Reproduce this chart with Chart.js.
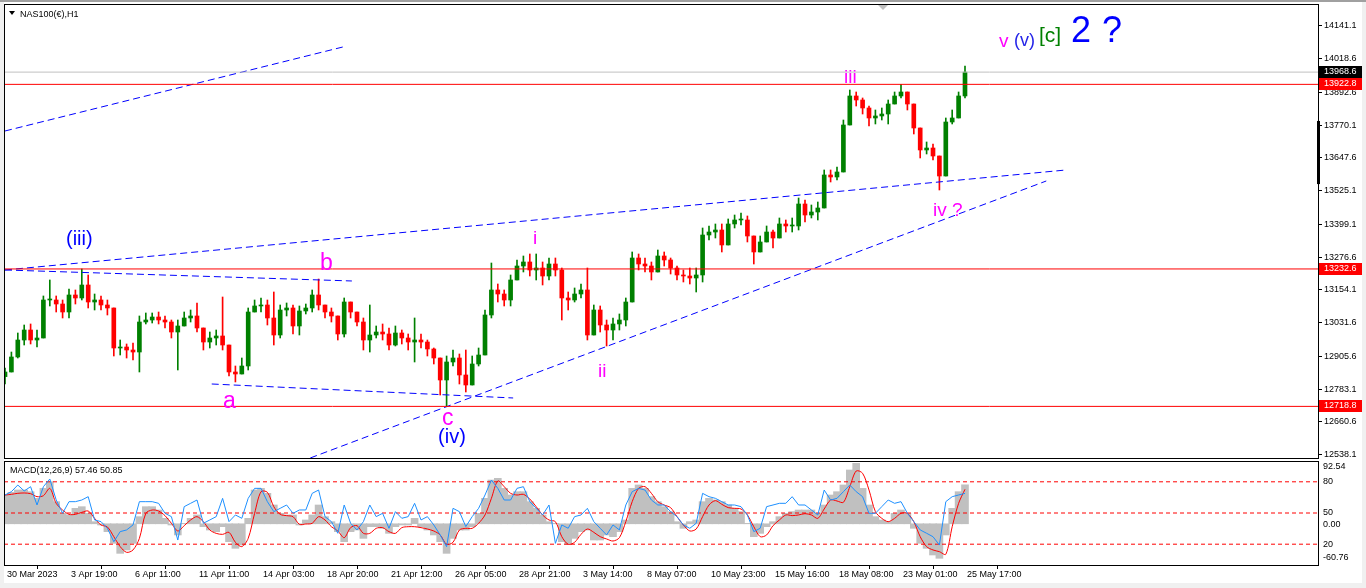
<!DOCTYPE html>
<html>
<head>
<meta charset="utf-8">
<script src="https://cdn.jsdelivr.net/npm/chart.js@4.4.0/dist/chart.umd.min.js"></script>
<style>
  html, body { margin: 0; padding: 0; background: #f0f0f0; }
  body { width: 1366px; height: 588px; position: relative; overflow: hidden; border-top: 2px solid #a0a0a0; box-sizing: border-box; }
  #sheet { position: absolute; left: 4px; top: 0; width: 1358px; height: 581px; background: #fff; }
  canvas { position: absolute; left: 0; }
  #price { top: -2px; }
  #macd { top: 458px; }
</style>
</head>
<body>
<div id="sheet"></div>
<canvas id="price" width="1366" height="462"></canvas>
<canvas id="macd" width="1366" height="128"></canvas>
<script>
// ---- data (one bar = ~6.4 hourly bars) ----
const tickLabels = ['30 Mar 2023', '3 Apr 19:00', '6 Apr 11:00', '11 Apr 11:00', '14 Apr 03:00',
    '18 Apr 20:00', '21 Apr 12:00', '26 Apr 05:00', '28 Apr 21:00', '3 May 14:00', '8 May 07:00',
    '10 May 23:00', '15 May 16:00', '18 May 08:00', '23 May 01:00', '25 May 17:00'];
const barsPerLabel = 10;

const priceTicks = [14141.1, 14018.6, 13892.6, 13770.1, 13647.6, 13525.1, 13399.1, 13276.6,
    13154.1, 13031.6, 12905.6, 12783.1, 12660.6, 12538.1];

const openStart = 12830.0;
const closes = [
    12847.4, 12903.5, 12967.0, 13004.4, 12967.0, 12974.5, 13116.6, 13116.6, 13101.6, 13071.7,
    13135.3, 13124.1, 13172.7, 13109.1, 13116.6, 13097.9, 13086.7, 12937.1, 12940.8, 12929.6,
    12922.1, 13034.3, 13041.8, 13053.0, 13041.8, 13034.3, 12996.9, 13019.4, 13049.3, 13056.8,
    13011.9, 12959.5, 12974.5, 12982.0, 12948.3, 12847.4, 12839.9, 12869.8, 13071.7, 13094.2,
    13097.9, 13049.3, 12985.7, 13079.2, 13086.7, 13019.4, 13075.5, 13086.7, 13135.3, 13097.9,
    13071.7, 13056.8, 12989.5, 13109.1, 13071.7, 13034.3, 12967.0, 12985.7, 12996.9, 12989.5,
    12948.3, 12993.2, 12974.5, 12959.5, 12967.0, 12959.5, 12933.4, 12899.7, 12817.5, 12884.8,
    12899.7, 12836.2, 12798.8, 12877.3, 12910.9, 13060.5, 13154.0, 13139.0, 13116.6, 13191.4,
    13243.7, 13258.7, 13228.8, 13236.2, 13206.3, 13251.2, 13228.8, 13124.1, 13116.6, 13139.0,
    13154.0, 12985.7, 13079.2, 13023.1, 13004.4, 13026.9, 13041.8, 13109.1, 13273.6, 13251.2,
    13243.7, 13221.3, 13281.1, 13266.2, 13236.2, 13210.1, 13206.3, 13198.8, 13210.1, 13359.6,
    13370.8, 13378.3, 13322.3, 13400.8, 13415.7, 13415.7, 13355.9, 13296.1, 13333.5, 13370.8,
    13348.4, 13400.8, 13393.3, 13393.3, 13475.5, 13434.4, 13445.6, 13460.6, 13584.0, 13576.5,
    13595.2, 13770.9, 13879.4, 13864.4, 13834.5, 13797.1, 13804.6, 13812.0, 13849.4, 13879.4,
    13894.3, 13849.4, 13759.7, 13677.5, 13684.9, 13655.0, 13580.2, 13782.1, 13797.1, 13879.4,
    13968.6];
const highs = [
    12862.4, 12922.1, 12993.2, 13023.1, 13026.9, 13004.4, 13131.6, 13191.4, 13131.6, 13116.6,
    13157.7, 13154.0, 13232.6, 13210.1, 13139.0, 13131.6, 13116.6, 13079.2, 12967.0, 12952.1,
    12955.8, 13056.8, 13068.0, 13068.0, 13071.7, 13056.8, 13041.8, 13041.8, 13071.7, 13079.2,
    13105.4, 13011.9, 12996.9, 13004.4, 13127.8, 12929.6, 12869.8, 12899.7, 13086.7, 13116.6,
    13124.1, 13116.6, 13146.5, 13097.9, 13105.4, 13097.9, 13094.2, 13101.6, 13154.0, 13195.0,
    13097.9, 13086.7, 13049.3, 13124.1, 13101.6, 13064.3, 13049.3, 13097.9, 13019.4, 13026.9,
    13011.9, 13019.4, 13004.4, 12989.5, 13049.3, 12989.5, 12967.0, 12937.1, 12892.3, 12907.2,
    12929.6, 12914.7, 12929.6, 12907.2, 12937.1, 13079.2, 13254.9, 13176.4, 13154.0, 13210.1,
    13266.2, 13281.1, 13288.6, 13288.6, 13258.7, 13273.6, 13273.6, 13236.2, 13146.5, 13161.5,
    13176.4, 13236.2, 13097.9, 13094.2, 13041.8, 13049.3, 13064.3, 13124.1, 13296.1, 13288.6,
    13273.6, 13258.7, 13303.5, 13296.1, 13273.6, 13243.7, 13228.8, 13236.2, 13236.2, 13385.8,
    13393.3, 13400.8, 13400.8, 13419.5, 13434.4, 13441.9, 13430.7, 13340.9, 13355.9, 13393.3,
    13378.3, 13423.2, 13415.7, 13423.2, 13498.0, 13490.5, 13471.8, 13483.0, 13602.7, 13602.7,
    13613.9, 13789.6, 13901.8, 13894.3, 13871.9, 13841.9, 13827.0, 13834.5, 13864.4, 13894.3,
    13922.8, 13894.3, 13834.5, 13744.8, 13707.4, 13699.9, 13621.4, 13797.1, 13827.0, 13894.3,
    13991.5];
const lows = [
    12802.5, 12854.9, 12899.7, 12948.3, 12952.1, 12940.8, 13023.1, 13094.2, 13071.7, 13049.3,
    13049.3, 13101.6, 13116.6, 13086.7, 13079.2, 13079.2, 13060.5, 12907.2, 12910.9, 12899.7,
    12892.3, 12847.4, 13026.9, 13030.6, 13026.9, 13011.9, 12974.5, 12854.9, 13023.1, 13034.3,
    12996.9, 12929.6, 12937.1, 12948.3, 12929.6, 12832.4, 12810.0, 12847.4, 12854.9, 13071.7,
    13071.7, 13023.1, 12948.3, 12974.5, 13056.8, 12989.5, 12985.7, 13064.3, 13071.7, 13079.2,
    13049.3, 13034.3, 12967.0, 12978.2, 13049.3, 13019.4, 12929.6, 12922.1, 12974.5, 12967.0,
    12929.6, 12944.6, 12952.1, 12929.6, 12884.8, 12937.1, 12907.2, 12877.3, 12761.3, 12718.8,
    12869.8, 12802.5, 12772.6, 12847.4, 12869.8, 12929.6, 13049.3, 13109.1, 13094.2, 13094.2,
    13191.4, 13221.3, 13206.3, 13191.4, 13172.7, 13191.4, 13206.3, 13041.8, 13079.2, 13109.1,
    13124.1, 12967.0, 13004.4, 12996.9, 12944.6, 12967.0, 13004.4, 13019.4, 13109.1, 13228.8,
    13221.3, 13191.4, 13236.2, 13243.7, 13213.8, 13191.4, 13183.9, 13176.4, 13146.5, 13183.9,
    13340.9, 13348.4, 13296.1, 13370.8, 13385.8, 13397.0, 13333.5, 13251.2, 13296.1, 13340.9,
    13311.0, 13370.8, 13370.8, 13370.8, 13378.3, 13408.2, 13423.2, 13415.7, 13468.1, 13557.8,
    13565.3, 13602.7, 13827.0, 13841.9, 13812.0, 13767.2, 13774.7, 13789.6, 13774.7, 13849.4,
    13871.9, 13827.0, 13737.3, 13647.6, 13662.5, 13640.1, 13527.9, 13580.2, 13774.7, 13804.6,
    13871.9];

const macdMain = [
    42.4, 46.4, 49.8, 49.8, 47.3, 37.5, 52.2, 62.1, 32.6, 15.4,
    13.0, 22.8, 25.2, 15.4, 3.1, -1.8, -11.6, -28.8, -43.6, -38.6,
    -28.8, 10.5, 25.2, 25.2, 20.3, 8.0, -1.8, -16.5, 0.7, 8.0,
    13.0, -4.3, -9.2, -11.6, -4.3, -26.4, -36.2, -31.3, 8.0, 49.8,
    52.2, 44.9, 27.7, 15.4, 13.0, 13.0, -1.8, 5.6, 13.0, 27.7,
    10.5, 3.1, -11.6, -26.4, -11.6, -9.2, -21.5, -4.3, -4.3, -6.7,
    -14.1, -4.3, -1.8, -1.8, 8.0, -4.3, -9.2, -16.5, -26.4, -43.6,
    -21.5, -9.2, -9.2, -4.3, 15.4, 37.5, 64.5, 67.0, 52.2, 42.4,
    47.3, 47.3, 32.6, 22.8, 13.0, 3.1, 0.7, -26.4, -30.3, -21.5,
    -11.6, -9.2, -23.9, -23.9, -16.5, -19.0, -11.6, 5.6, 52.2, 57.2,
    52.2, 40.0, 32.6, 25.2, 17.9, 3.1, -6.7, 3.1, 5.6, 32.6,
    37.5, 35.1, 32.6, 27.7, 22.8, 17.9, 0.7, -19.0, -14.1, -4.3,
    3.1, 10.5, 15.4, 17.9, 20.3, 20.3, 20.3, 15.4, 27.7, 42.4,
    47.3, 57.2, 79.3, 89.1, 52.2, 27.7, 10.5, 5.6, 3.1, 15.4,
    20.3, 15.4, -6.7, -28.8, -36.2, -46.0, -50.9, -16.5, 22.8, 47.3,
    57.46];
const macdSignal = [
    42.4, 43.4, 44.9, 45.4, 44.4, 40.0, 41.4, 52.2, 30.1, 20.3,
    13.9, 13.9, 16.9, 18.8, 8.0, -1.8, -4.7, -19.0, -33.7, -42.1,
    -38.6, -21.5, 15.4, 20.3, 18.8, 12.0, 0.7, -10.6, -2.8, 5.6,
    10.5, 3.1, -9.2, -14.1, -15.6, -12.6, -27.3, -33.7, -21.5, 15.4,
    47.3, 46.4, 25.2, 13.9, 12.0, 10.5, -0.8, -0.3, 0.7, 10.5,
    5.6, -4.3, -10.6, -20.5, -5.7, -2.8, -14.1, -14.1, -6.7, -5.7,
    -11.6, -14.1, -5.7, -4.3, -4.3, -5.7, -7.7, -10.6, -16.5, -30.3,
    -27.3, -9.2, -6.7, -6.7, 0.7, 13.0, 37.5, 63.1, 54.7, 44.9,
    42.4, 43.4, 36.5, 25.2, 13.0, 5.6, 3.1, -19.0, -30.3, -27.3,
    -15.6, -7.7, -12.6, -19.0, -22.4, -25.4, -20.5, 3.1, 32.6, 52.2,
    54.7, 44.9, 32.6, 27.7, 23.8, 10.5, -1.8, -10.6, -7.7, 10.5,
    27.7, 34.1, 28.7, 23.8, 22.8, 21.8, 13.0, -4.3, -19.0, -16.5,
    -2.8, 5.6, 13.0, 12.0, 13.0, 14.9, 13.0, 8.0, 21.8, 35.1,
    33.6, 31.6, 54.7, 77.8, 74.4, 49.8, 17.9, 8.0, 3.1, 8.0,
    15.4, 15.4, 3.1, -19.0, -33.7, -38.6, -41.1, -45.0, -4.3, 30.1,
    50.85];
const oscLine = [
    67.3, 70.5, 76.9, 71.2, 75.3, 57.7, 75.3, 82.7, 62.5, 49.7,
    60.9, 60.9, 62.5, 65.7, 43.3, 41.7, 35.3, 22.4, 32.1, 33.7,
    38.5, 60.9, 60.9, 60.9, 59.3, 49.7, 46.5, 24.0, 56.1, 59.3,
    62.5, 40.1, 43.3, 46.5, 64.1, 41.7, 48.1, 44.9, 64.1, 73.7,
    73.7, 60.9, 51.3, 54.5, 57.7, 49.7, 52.9, 52.9, 68.9, 72.1,
    46.5, 41.7, 30.5, 57.7, 40.1, 33.7, 41.7, 57.7, 46.5, 49.7,
    35.3, 51.3, 44.9, 46.5, 59.3, 43.3, 46.5, 38.5, 28.9, 17.6,
    54.5, 51.3, 36.9, 46.5, 54.5, 67.3, 81.7, 73.7, 62.5, 62.5,
    73.7, 75.3, 60.9, 54.5, 48.1, 57.7, 20.8, 38.5, 35.3, 46.5,
    48.1, 54.5, 41.7, 35.3, 28.9, 38.5, 33.7, 57.7, 70.5, 73.7,
    72.1, 62.5, 57.7, 57.7, 51.3, 46.5, 38.5, 35.3, 40.1, 68.9,
    65.7, 64.1, 60.9, 57.7, 57.7, 56.1, 48.1, 32.1, 35.3, 56.1,
    57.7, 59.3, 59.3, 65.7, 57.7, 57.7, 52.9, 48.1, 72.1, 62.5,
    64.1, 70.5, 76.9, 70.5, 65.7, 49.7, 49.7, 56.1, 62.5, 59.3,
    60.9, 49.7, 41.7, 33.7, 30.5, 27.2, 19.2, 60.9, 65.7, 67.3,
    68.9];
const oscLevels = [80, 50, 20];
const macdRange = [-60.76, 92.54];

const bidPrice = 13968.6;
const redLevels = [13922.8, 13232.6, 12718.8];

// trend lines as [barFrom, priceFrom, barTo, priceTo]
const trendLines = [
    [0, 13748.5, 52.8, 14062.6],
    [0, 13228.8, 165.8, 13602.7],
    [0, 13228.8, 54.2, 13187.7],
    [32.3, 12802.5, 79.4, 12750.2],
    [47.7, 12525.9, 162.7, 13561.6],
];

// wave labels: text, bar, price (baseline), degree
const waveLabels = [
    ['(iii)', 9.53, 13322.2, 'minor'],
    ['b', 49.2, 13228.8, 'abc'],
    ['a', 34.06, 12712.8, 'abc'],
    ['c', 68.28, 12649.2, 'abc'],
    ['(iv)', 67.66, 12582.0, 'minor'],
    ['i', 82.5, 13326.0, 'minute'],
    ['ii', 92.66, 12828.7, 'minute'],
    ['iii', 131.1, 13928.0, 'minute'],
    ['iv ?', 145.0, 13430.7, 'minute'],
    ['v', 155.3, 14062.6, 'minute'],
    ['(v)', 157.66, 14066.3, 'minorTop'],
    ['[c]', 161.56, 14081.3, 'inter'],
    ['2', 166.56, 14081.3, 'primary'],
    ['?', 171.4, 14081.3, 'primary'],
];

// ---- styles ----
const FONT = '"Liberation Sans", Arial, sans-serif';
const waveStyles = {
    minor: { color: '#0000ff', size: 20 },
    minorTop: { color: '#2424e8', size: 18 },
    abc: { color: '#ff00ff', size: 23 },
    minute: { color: '#ff00ff', size: 19 },
    inter: { color: '#008000', size: 21 },
    primary: { color: '#0000ff', size: 36 },
};
const BULL = '#008000';
const BEAR = '#ff0000';

const xMin = -0.15625;
const xMax = 205.15625;
const priceMin = 12525.8;
const priceMax = 14223.3;

// ---- derived series ----
const opens = closes.map((c, i) => (i === 0 ? openStart : closes[i - 1]));
const candleColors = closes.map((c, i) => (c >= opens[i] ? BULL : BEAR));
const wickData = closes.map((c, i) => ({
    x: i,
    y: [Math.min(lows[i], opens[i], c), Math.max(highs[i], opens[i], c)],
}));
const bodyData = closes.map((c, i) => ({ x: i, y: [opens[i], c] }));

function hLine(price, color, extra = {}) {
    return {
        type: 'line',
        data: [{ x: xMin, y: price }, { x: xMax, y: price }],
        borderColor: color,
        borderWidth: 1,
        pointRadius: 0,
        order: 1,
        ...extra,
    };
}

function frame(ctx, a) {
    ctx.strokeStyle = '#000';
    ctx.lineWidth = 1;
    ctx.strokeRect(a.left + 0.5, a.top + 0.5, a.right - a.left, a.bottom - a.top);
}

const priceOverlay = {
    id: 'priceOverlay',
    afterDraw(chart) {
        const { ctx, chartArea: a, scales: { x, y } } = chart;
        ctx.save();
        frame(ctx, a);

        // symbol caption
        ctx.fillStyle = '#000';
        ctx.beginPath();
        ctx.moveTo(9, 11); ctx.lineTo(15, 11); ctx.lineTo(12, 15); ctx.closePath();
        ctx.fill();
        ctx.font = '9px ' + FONT;
        ctx.textBaseline = 'alphabetic';
        ctx.fillText('NAS100(€),H1', 20, 17);

        // chart shift marker
        ctx.fillStyle = '#c0c0c0';
        ctx.beginPath();
        ctx.moveTo(878, 5); ctx.lineTo(888, 5); ctx.lineTo(883, 10); ctx.closePath();
        ctx.fill();

        // wave labels
        waveLabels.forEach(([text, bar, price, kind]) => {
            const st = waveStyles[kind];
            ctx.font = st.size + 'px ' + FONT;
            ctx.fillStyle = st.color;
            ctx.fillText(text, x.getPixelForValue(bar), y.getPixelForValue(price));
        });

        // price boxes on the axis
        ctx.font = '9px ' + FONT;
        ctx.textBaseline = 'middle';
        const box = (price, bg) => {
            const py = Math.round(y.getPixelForValue(price));
            ctx.fillStyle = bg;
            ctx.fillRect(a.right + 1, py - 6, 43, 12);
            ctx.fillStyle = '#fff';
            ctx.fillText(price.toFixed(1), a.right + 6, py);
        };
        box(bidPrice, '#000');
        redLevels.forEach(p => box(p, '#ff0000'));

        // scroll marker on axis
        const t1 = y.getPixelForValue(13786), t2 = y.getPixelForValue(13550);
        ctx.fillStyle = '#000';
        ctx.fillRect(a.right - 1, t1, 3, t2 - t1);
        ctx.restore();
    },
};

new Chart(document.getElementById('price'), {
    type: 'bar',
    data: {
        datasets: [
            { data: wickData, backgroundColor: candleColors, barThickness: 1, grouped: false, order: 3 },
            { data: bodyData, backgroundColor: candleColors, barThickness: 4, minBarLength: 1, grouped: false, order: 2 },
            hLine(bidPrice, '#c0c0c0'),
            ...redLevels.map(p => hLine(p, '#ff0000')),
            ...trendLines.map(([x1, p1, x2, p2]) => ({
                type: 'line',
                data: [{ x: x1, y: p1 }, { x: x2, y: p2 }],
                borderColor: '#0000ff',
                borderWidth: 1,
                borderDash: [7, 4],
                pointRadius: 0,
                order: 1,
            })),
        ],
    },
    options: {
        responsive: false,
        animation: false,
        events: [],
        layout: { padding: { left: 4, top: 4, bottom: 4, right: 0 } },
        plugins: { legend: { display: false }, tooltip: { enabled: false } },
        scales: {
            x: { type: 'linear', min: xMin, max: xMax, offset: false, display: false },
            y: {
                type: 'linear',
                position: 'right',
                min: priceMin,
                max: priceMax,
                afterBuildTicks: s => { s.ticks = priceTicks.map(v => ({ value: v })); },
                afterFit: s => { s.width = 48; s.paddingTop = 0; s.paddingBottom = 0; },
                ticks: {
                    callback: v => v.toFixed(1),
                    color: '#000',
                    font: { family: FONT, size: 9 },
                    padding: 2,
                    autoSkip: false,
                },
                grid: { drawOnChartArea: false, drawTicks: true, tickLength: 4, color: '#000' },
                border: { display: false },
            },
        },
    },
    plugins: [priceOverlay],
});

const macdOverlay = {
    id: 'macdOverlay',
    afterDraw(chart) {
        const { ctx, chartArea: a, scales } = chart;
        const m = scales.yMacd, o = scales.yOsc;
        ctx.save();
        frame(ctx, a);
        ctx.fillStyle = '#000';
        ctx.font = '9px ' + FONT;
        ctx.textBaseline = 'alphabetic';
        ctx.fillText('MACD(12,26,9) ' + macdMain[macdMain.length - 1].toFixed(2) + ' ' +
            macdSignal[macdSignal.length - 1].toFixed(2), 10, 13);
        ctx.textBaseline = 'middle';
        const lx = a.right + 5;
        ctx.fillText(macdRange[1].toFixed(2), lx, a.top + 6);
        ctx.fillText(macdRange[0].toFixed(2), lx, a.bottom - 7);
        ctx.fillText((0).toFixed(2), lx, m.getPixelForValue(0) + 1);
        oscLevels.forEach(v => ctx.fillText(String(v), lx, o.getPixelForValue(v)));
        ctx.restore();
    },
};

const idx = macdMain.map((_, i) => i);
new Chart(document.getElementById('macd'), {
    type: 'bar',
    data: {
        datasets: [
            {
                data: idx.map(i => ({ x: i, y: macdMain[i] })),
                backgroundColor: '#c0c0c0',
                barThickness: 7,
                grouped: false,
                yAxisID: 'yMacd',
                order: 5,
            },
            ...oscLevels.map(v => ({
                type: 'line',
                data: [{ x: xMin, y: v }, { x: xMax, y: v }],
                borderColor: '#ff0000',
                borderWidth: 1,
                borderDash: [4, 3],
                pointRadius: 0,
                yAxisID: 'yOsc',
                order: 4,
            })),
            {
                type: 'line',
                data: idx.map(i => ({ x: i, y: macdSignal[i] })),
                borderColor: '#ff0000',
                borderWidth: 1,
                pointRadius: 0,
                tension: 0.3,
                yAxisID: 'yMacd',
                order: 3,
            },
            {
                type: 'line',
                data: idx.map(i => ({ x: i, y: oscLine[i] })),
                borderColor: '#1e90ff',
                borderWidth: 1,
                pointRadius: 0,
                yAxisID: 'yOsc',
                order: 2,
            },
        ],
    },
    options: {
        responsive: false,
        animation: false,
        events: [],
        layout: { padding: { left: 4, right: 48, top: 1, bottom: 0 } },
        plugins: { legend: { display: false }, tooltip: { enabled: false } },
        scales: {
            x: {
                type: 'linear',
                min: xMin,
                max: xMax,
                offset: false,
                position: 'bottom',
                afterBuildTicks: s => { s.ticks = tickLabels.map((_, k) => ({ value: k * barsPerLabel })); },
                afterFit: s => { s.height = 23; },
                ticks: {
                    callback: (v, i) => tickLabels[i],
                    align: 'start',
                    labelOffset: 2,
                    maxRotation: 0,
                    minRotation: 0,
                    autoSkip: false,
                    padding: 0,
                    color: '#000',
                    font: { family: FONT, size: 9 },
                },
                grid: { drawOnChartArea: false, drawTicks: true, tickLength: 4, color: '#000' },
                border: { display: false },
            },
            yMacd: { axis: 'y', type: 'linear', min: macdRange[0], max: macdRange[1], display: false },
            yOsc: { axis: 'y', type: 'linear', min: 0, max: 100, display: false },
        },
    },
    plugins: [macdOverlay],
});
</script>
</body>
</html>
